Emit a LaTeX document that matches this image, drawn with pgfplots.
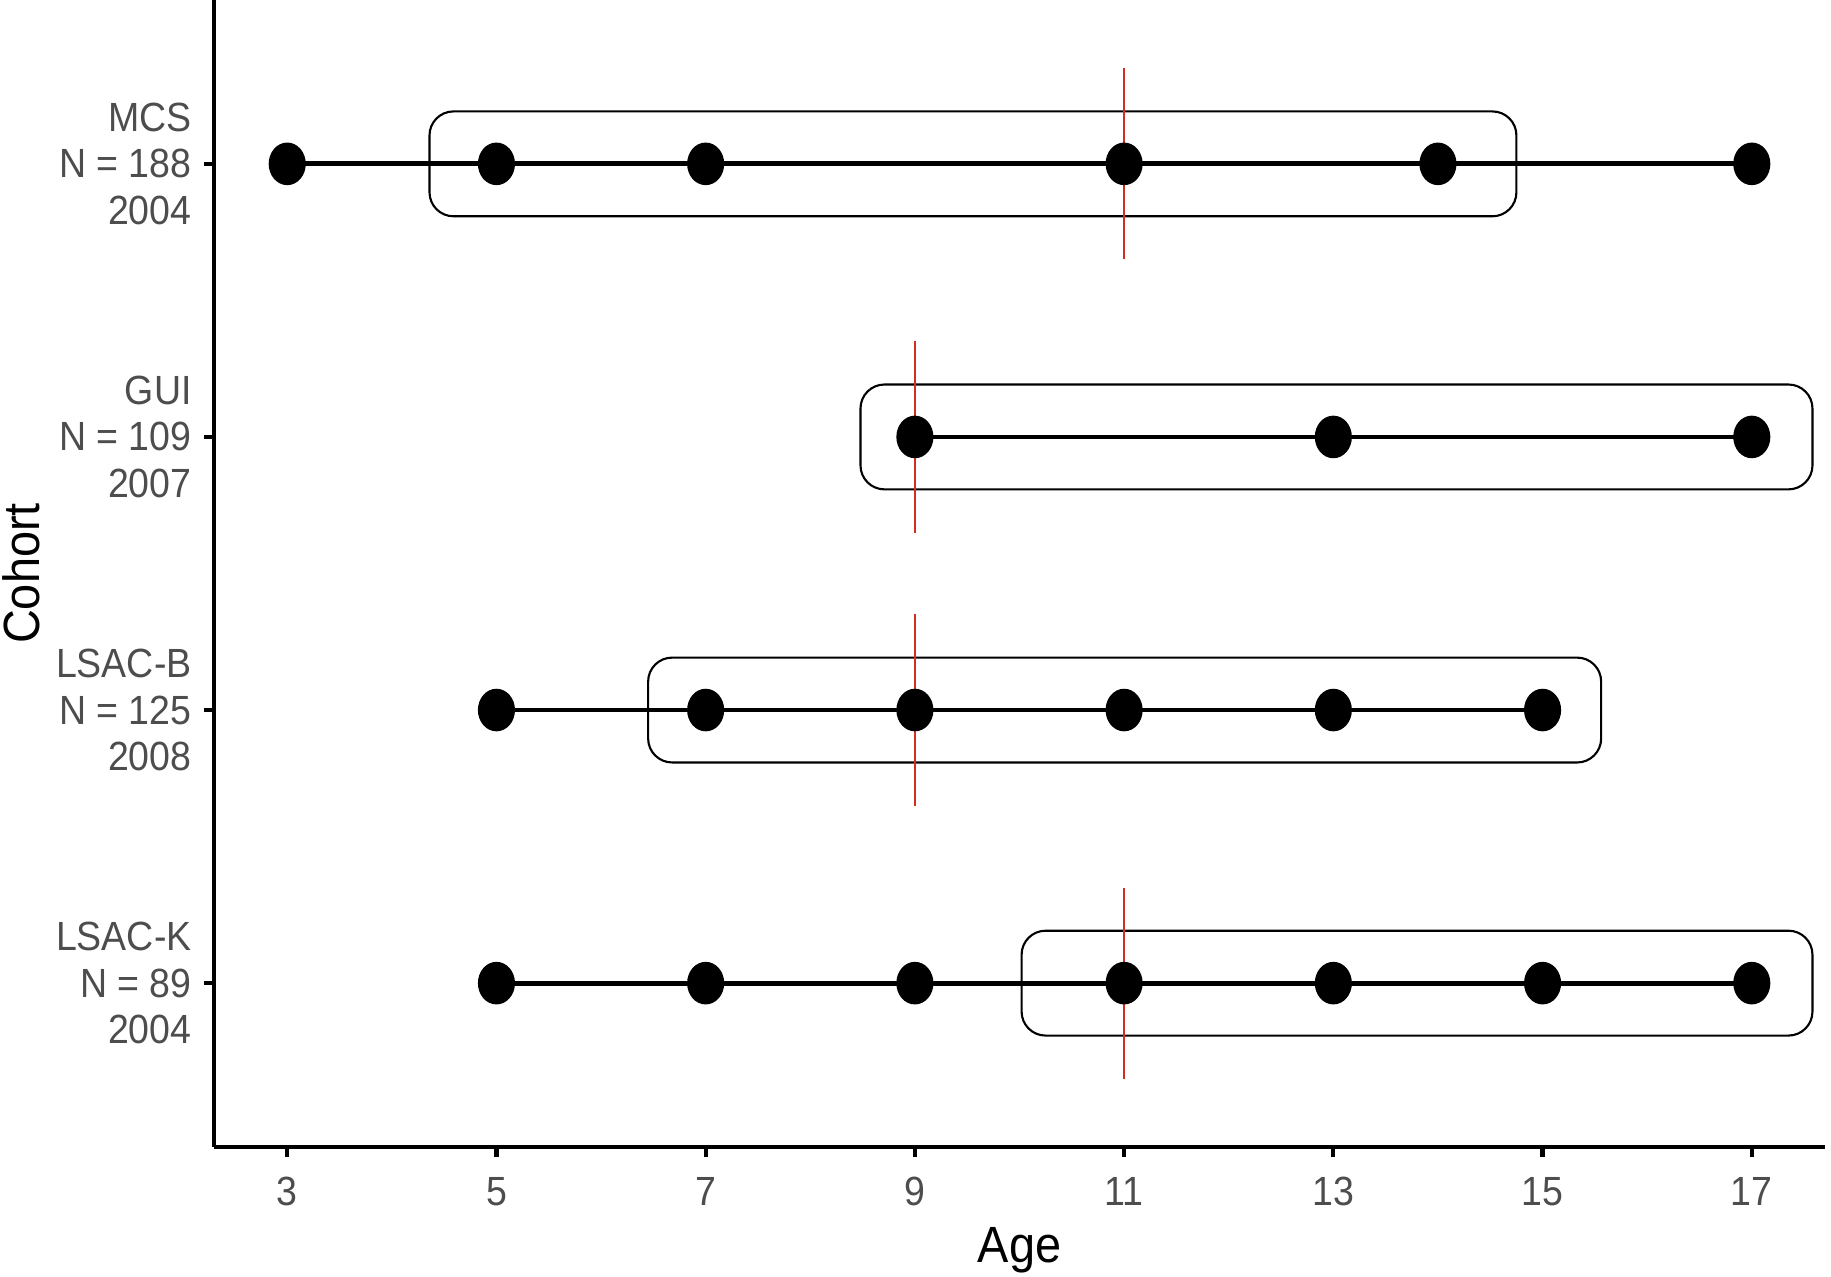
\documentclass[border=0pt]{standalone}
\usepackage{pgfplots}
\pgfplotsset{compat=1.18}
\usepackage{fontspec}
\setmainfont{Liberation Sans}[FakeStretch=0.92]
\definecolor{tickgray}{RGB}{77,77,77}
\definecolor{refred}{RGB}{210,45,35}

\begin{document}
\begin{tikzpicture}
\begin{axis}[
    scale only axis,
    width=16.11cm, height=11.47cm,
    xmin=2.3, xmax=17.7, ymin=0.4, ymax=4.6,
    axis lines*=left,
    axis line style={line width=1.2pt, black},
    xtick={3,5,...,17},
    xticklabel={\pgfmathprintnumber{\tick}},
    ytick={1,2,3,4},
    yticklabels={{LSAC-K\\N = 89\\2004},{LSAC-B\\N = 125\\2008},{GUI\\N = 109\\2007},{MCS\\N = 188\\2004}},
    tick align=outside,
    major tick length=0.1cm,
    tick style={line width=1.2pt, black},
    tick label style={font=\fontsize{11.6}{13.2}\selectfont, text=tickgray},
    yticklabel style={align=right},
    xticklabel style={yshift=-0.08cm},
    /pgf/number format/assume math mode=true,
    xlabel={Age}, ylabel={Cohort},
    label style={font=\fontsize{14.5}{16}\selectfont},
    xlabel style={at={(axis description cs:0.5,-0.0900)}, anchor=center},
    ylabel style={at={(axis description cs:-0.1198,0.5)}, anchor=center},
    clip=false,
]
% cohorts: waves joined by a line
\addplot[black, line width=1.35pt, mark=*, mark size=4.6pt, mark options={yscale=1.17}]
  coordinates {(3,4) (5,4) (7,4) (11,4) (14,4) (17,4)};
\addplot[black, line width=1.35pt, mark=*, mark size=4.6pt, mark options={yscale=1.17}]
  coordinates {(9,3) (13,3) (17,3)};
\addplot[black, line width=1.35pt, mark=*, mark size=4.6pt, mark options={yscale=1.17}]
  coordinates {(5,2) (7,2) (9,2) (11,2) (13,2) (15,2)};
\addplot[black, line width=1.35pt, mark=*, mark size=4.6pt, mark options={yscale=1.17}]
  coordinates {(5,1) (7,1) (9,1) (11,1) (13,1) (15,1) (17,1)};

% selected windows (rounded boxes)
\addplot[black, line width=0.6pt, rounded corners=0.24cm, mark=none]
  coordinates {(9.5,3.808) (14.75,3.808) (14.75,4.192) (4.36,4.192) (4.36,3.808) (9.5,3.808)};
\addplot[black, line width=0.6pt, rounded corners=0.24cm, mark=none]
  coordinates {(13,2.808) (17.58,2.808) (17.58,3.192) (8.48,3.192) (8.48,2.808) (13,2.808)};
\addplot[black, line width=0.6pt, rounded corners=0.24cm, mark=none]
  coordinates {(11,1.808) (15.56,1.808) (15.56,2.192) (6.45,2.192) (6.45,1.808) (11,1.808)};
\addplot[black, line width=0.6pt, rounded corners=0.24cm, mark=none]
  coordinates {(14,0.808) (17.58,0.808) (17.58,1.192) (10.02,1.192) (10.02,0.808) (14,0.808)};

% reference age
\addplot[refred, line width=0.7pt, mark=none] coordinates {(11,3.65) (11,4.35)};
\addplot[refred, line width=0.7pt, mark=none] coordinates {(9,2.65) (9,3.35)};
\addplot[refred, line width=0.7pt, mark=none] coordinates {(9,1.65) (9,2.35)};
\addplot[refred, line width=0.7pt, mark=none] coordinates {(11,0.65) (11,1.35)};
\end{axis}
\pgfresetboundingbox
\path (current axis.south west) ++(-2.14cm,-1.30cm) rectangle ++(18.31cm,12.77cm);
\end{tikzpicture}
\end{document}
